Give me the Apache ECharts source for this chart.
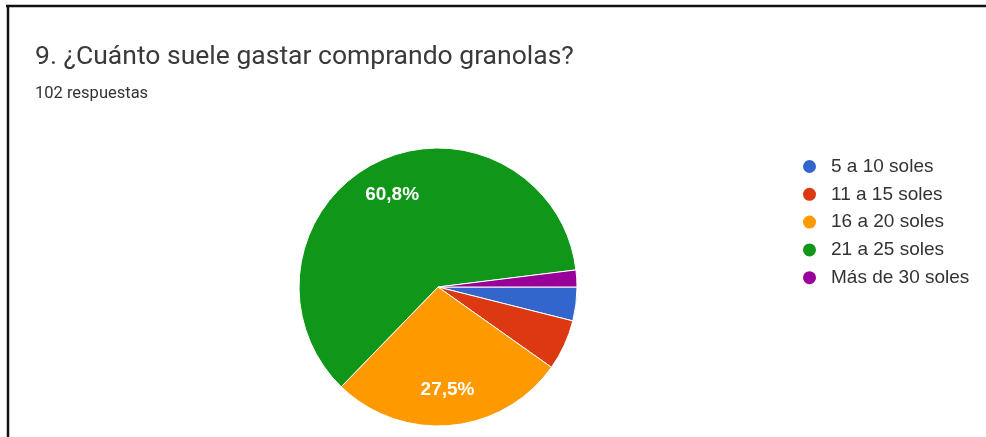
<!DOCTYPE html>
<html>
<head>
<meta charset="utf-8">
<script src="https://cdn.jsdelivr.net/npm/echarts@6/dist/echarts.min.js"></script>
<style>
html,body{margin:0;padding:0;background:#fff;}
#chart{width:986px;height:437px;}
</style>
</head>
<body>
<div id="chart"></div>
<script>
const titleText = '9. ¿Cuánto suele gastar comprando granolas?';
const subtitleText = '102 respuestas';
const categories = ['5 a 10 soles', '11 a 15 soles', '16 a 20 soles', '21 a 25 soles', 'Más de 30 soles'];
const counts = [4, 6, 28, 62, 2];
const colors = ['#3366cc', '#dc3912', '#ff9900', '#109618', '#990099'];
const labelMin = 10; // slices below this percent get no label

const total = counts.reduce((a, b) => a + b, 0);
const fmtPct = v => (v / total * 100).toFixed(1).replace('.', ',') + '%';

const pieData = categories.map((c, i) => ({ name: c, value: counts[i], itemStyle: { color: colors[i] } }));
const labelData = categories.map((c, i) => ({
  name: c, value: counts[i],
  label: { show: counts[i] / total * 100 >= labelMin }
}));

const chart = echarts.init(document.getElementById('chart'), null, { renderer: 'canvas' });
chart.setOption({
  animation: false,
  backgroundColor: '#ffffff',
  title: [
    { text: titleText, left: 35, top: 44, padding: 0, textStyle: { fontFamily: 'Roboto', fontSize: 26.5, fontWeight: 'normal', color: '#3a3a3a' } },
    { text: subtitleText, left: 35, top: 85, padding: 0, textStyle: { fontFamily: 'Roboto', fontSize: 16.5, fontWeight: 'normal', color: '#333333' } }
  ],
  graphic: [
    { type: 'line', shape: { x1: 6, y1: 6, x2: 986, y2: 6 }, style: { stroke: '#111', lineWidth: 2.5 } },
    { type: 'line', shape: { x1: 8, y1: 5, x2: 8, y2: 437 }, style: { stroke: '#111', lineWidth: 2.5 } }
  ],
  legend: {
    orient: 'vertical',
    left: 801,
    top: 157,
    padding: 0,
    data: categories,
    icon: 'circle',
    itemWidth: 15,
    itemHeight: 15,
    itemGap: 8.8,
    textStyle: { fontFamily: 'Liberation Sans', fontSize: 19, color: '#333333', padding: [0, 0, 0, 9] }
  },
  series: [
    {
      type: 'pie',
      center: [438, 287],
      radius: [0, 139],
      startAngle: 0,
      clockwise: true,
      avoidLabelOverlap: false,
      itemStyle: { borderColor: '#ffffff', borderWidth: 1 },
      label: { show: false },
      labelLine: { show: false },
      emphasis: { disabled: true },
      data: pieData
    },
    {
      type: 'pie',
      center: [438, 287],
      radius: [62, 138],
      startAngle: 0,
      clockwise: true,
      silent: true,
      avoidLabelOverlap: false,
      itemStyle: { color: 'rgba(0,0,0,0)', borderWidth: 0 },
      label: {
        position: 'inside',
        formatter: p => fmtPct(p.value),
        fontFamily: 'Liberation Sans',
        fontSize: 19,
        fontWeight: 'bold',
        color: '#ffffff'
      },
      labelLine: { show: false },
      emphasis: { disabled: true },
      data: labelData
    }
  ]
});
</script>
</body>
</html>
